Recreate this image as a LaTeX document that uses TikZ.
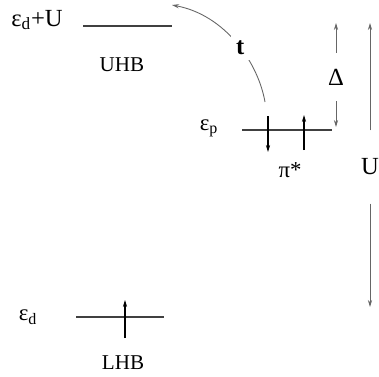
\documentclass[tikz,border=0pt]{standalone}
\usepackage{fontspec}
\setmainfont{Liberation Serif}
\usetikzlibrary{arrows.meta}

\begin{document}
\begin{tikzpicture}[x=0.02cm, y=-0.02cm, >={Stealth[length=4pt,width=2.4pt]},
    level/.style={black!75, line width=0.6pt},
    spin/.style={->, black, line width=0.7pt},
    gap/.style={black!60, line width=0.5pt, ->},
    lbl/.style={font=\fontsize{12}{14}\selectfont, inner sep=1pt, text=black}]
        \useasboundingbox (0,0) rectangle (379,376);
        % energy levels
        \draw[level] (83,26) -- (172,26);
        \draw[level] (242,130) -- (332,130);
        \draw[level] (76,317) -- (164,317);
        \node[lbl, font=\fontsize{14}{16}\selectfont] (eU) at (37,20) {ε\textsubscript{d}+U};
        \node[lbl] (uhb) at (122,65) {UHB};
        \node[lbl, font=\fontsize{13}{15}\selectfont] (ep) at (209,128) {ε\textsubscript{p}};
        \node[lbl, font=\fontsize{13}{15}\selectfont] (pi) at (290,170) {π*};
        \node[lbl, font=\fontsize{13}{15}\selectfont] (ed) at (28,317) {ε\textsubscript{d}};
        \node[lbl] (lhb) at (123,363) {LHB};
        % electrons
        \draw[spin] (268,116) -- (268,152);
        \draw[spin] (304,150) -- (304,115);
        \draw[spin] (125,338) -- (125,300);
        % hopping
        \coordinate (ts) at (265,102);
        \coordinate (te) at (172,5);
        \draw[gap] (ts) .. controls (258,62) and (225,15) .. (te)
            node[lbl, font=\fontsize{14}{16}\bfseries, pos=0.45, fill=white, inner sep=3pt] (t) {t};
        % Delta and U
        \node[lbl, font=\fontsize{14}{16}\selectfont, inner ysep=9pt] (Delta) at (336,77) {Δ};
        \coordinate (Dtop) at (336,23);
        \coordinate (Dbot) at (336,127);
        \draw[gap] (Delta) -- (Dtop);
        \draw[gap] (Delta) -- (Dbot);
        \node[lbl, font=\fontsize{14}{16}\selectfont, inner ysep=16pt] (U) at (370,167) {U};
        \coordinate (Utop) at (370,23);
        \coordinate (Ubot) at (370,307);
        \draw[gap] (U) -- (Utop);
        \draw[gap] (U) -- (Ubot);
\end{tikzpicture}
\end{document}
